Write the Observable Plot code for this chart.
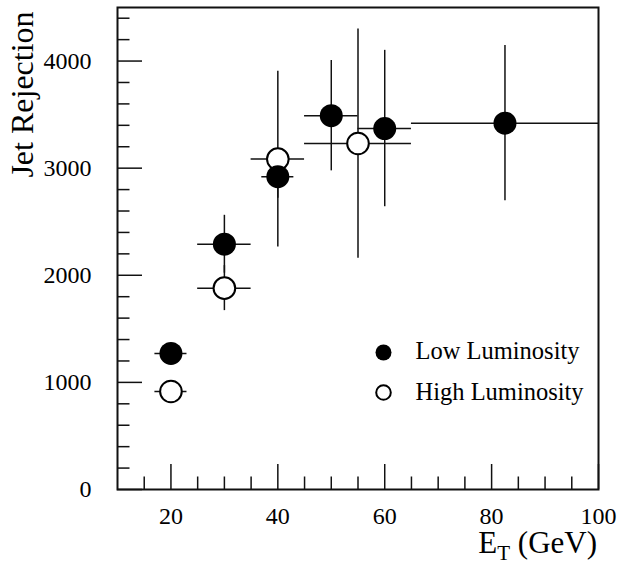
<!DOCTYPE html>
<html><head><meta charset="utf-8">
<script src="https://cdn.jsdelivr.net/npm/d3@7"></script>
<script src="https://cdn.jsdelivr.net/npm/@observablehq/plot@0.6"></script>
<style>
body{margin:0;background:#fff}
#chart{position:relative;width:621px;height:573px}
</style>
</head><body><div id="chart"></div>
<script>
// Low luminosity (filled circles)
const lowX    = [20, 30, 40, 50, 60, 82.5];
const lowY    = [1270, 2290, 2920, 3490, 3370, 3420];
const lowXLo  = [17, 25, 37, 45, 55, 65];
const lowXHi  = [23, 35, 43, 55, 65, 100];
const lowYErr = [60, 270, 200, 515, 730, 725];

// High luminosity (open circles)
const highX    = [20, 30, 40, 55];
const highY    = [915, 1880, 3085, 3230];
const highXLo  = [17, 25, 35, 45];
const highXHi  = [23, 35, 45, 65];
const highYErr = [60, 210, 820, 1070];

const xMajor = [20, 40, 60, 80, 100];
const xMinor = [15, 25, 30, 35, 45, 50, 55, 65, 70, 75, 85, 90, 95];
const yMajor = [0, 1000, 2000, 3000, 4000];
const yMinor = [200, 400, 600, 800, 1200, 1400, 1600, 1800, 2200, 2400, 2600, 2800, 3200, 3400, 3600, 3800, 4200, 4400];

const legendLabels = ["Low Luminosity", "High Luminosity"];
const yTitle = "Jet Rejection";

const build = (xs, ys, lo, hi, err) => xs.map((x, i) => ({
  x, y: ys[i], x1: lo[i], x2: hi[i], y1: ys[i] - err[i], y2: ys[i] + err[i]
}));
const low = build(lowX, lowY, lowXLo, lowXHi, lowYErr);
const high = build(highX, highY, highXLo, highXHi, highYErr);
const all = high.concat(low);

const ink = "#000";
const line = "#111";
const plot = Plot.plot({
  width: 621,
  height: 573,
  marginLeft: 117,
  marginRight: 23,
  marginTop: 7,
  marginBottom: 84,
  style: {fontFamily: "'Liberation Serif', 'Times New Roman', serif", background: "#fff", color: ink},
  x: {domain: [10, 100], label: null},
  y: {domain: [0, 4500], label: null},
  marks: [
    Plot.ruleY(all, {y: "y", x1: "x1", x2: "x2", stroke: line, strokeWidth: 1.5}),
    Plot.ruleX(all, {x: "x", y1: "y1", y2: "y2", stroke: line, strokeWidth: 1.5}),
    Plot.dot(high, {x: "x", y: "y", r: 10.8, fill: "white", stroke: "black", strokeWidth: 2}),
    Plot.dot(low, {x: "x", y: "y", r: 11.5, fill: "black"}),
    Plot.frame({stroke: line, strokeWidth: 2}),
    // inward ticks
    Plot.axisX({ticks: xMajor, tickSize: 25, dy: -25, text: null, label: null, stroke: line, strokeWidth: 1.5}),
    Plot.axisX({ticks: xMinor, tickSize: 12.5, dy: -12.5, text: null, label: null, stroke: line, strokeWidth: 1.5}),
    Plot.axisY({ticks: yMajor, tickSize: 25, dx: 25, text: null, label: null, stroke: line, strokeWidth: 1.5}),
    Plot.axisY({ticks: yMinor, tickSize: 12.5, dx: 12.5, text: null, label: null, stroke: line, strokeWidth: 1.5}),
    // tick labels
    Plot.axisX({ticks: xMajor, tickSize: 0, tickPadding: 17, fontSize: 24, label: null, fill: ink, tickFormat: d3.format("d")}),
    Plot.axisY({ticks: yMajor, tickSize: 0, tickPadding: 26, fontSize: 24, label: null, fill: ink, tickFormat: d3.format("d")}),
    // y title
    Plot.text([yTitle], {frameAnchor: "top-left", rotate: -90, textAnchor: "middle", lineAnchor: "bottom",
      dx: -85, dy: 87, fontSize: 32, fill: ink}),
    // legend
    Plot.dot([legendLabels[0]], {frameAnchor: "top-left", dx: 266, dy: 345, r: 8, fill: "black"}),
    Plot.dot([legendLabels[1]], {frameAnchor: "top-left", dx: 266, dy: 385, r: 7.3, fill: "white", stroke: "black", strokeWidth: 2}),
    Plot.text([legendLabels[0]], {frameAnchor: "top-left", dx: 298, dy: 351, textAnchor: "start", lineAnchor: "bottom", fontSize: 24.5, fill: ink}),
    Plot.text([legendLabels[1]], {frameAnchor: "top-left", dx: 298, dy: 392, textAnchor: "start", lineAnchor: "bottom", fontSize: 24.5, fill: ink})
  ]
});
document.getElementById("chart").appendChild(plot);

// x title with subscript
const t = d3.select(plot).append("text")
  .attr("x", 597).attr("y", 553).attr("text-anchor", "end")
  .attr("font-size", 31).attr("fill", ink)
  .attr("font-family", "'Liberation Serif', 'Times New Roman', serif");
t.append("tspan").text("E");
t.append("tspan").attr("font-size", 21).attr("dy", 7).text("T");
t.append("tspan").attr("dy", -7).text(" (GeV)");
</script>
</body></html>
